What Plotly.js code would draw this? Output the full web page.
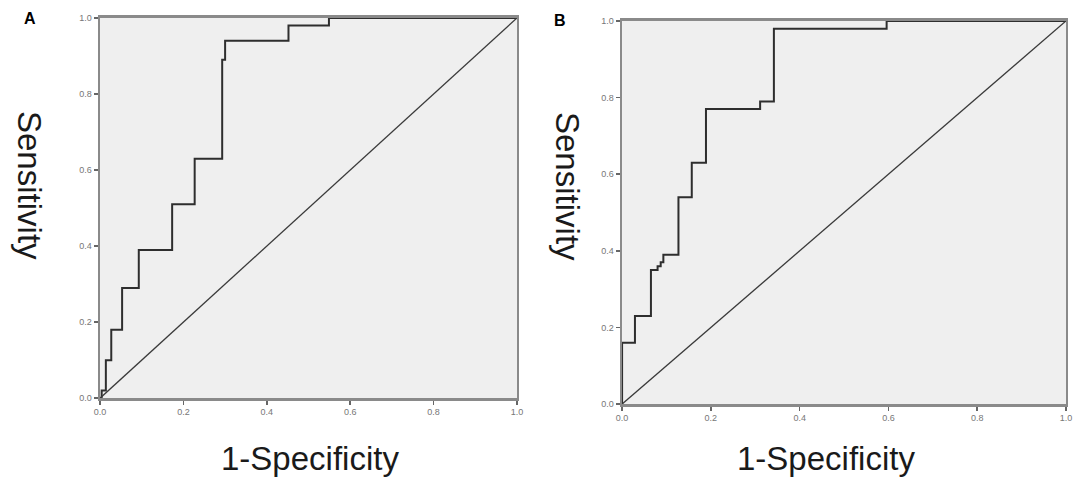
<!DOCTYPE html>
<html>
<head>
<meta charset="utf-8">
<script src="https://cdn.plot.ly/plotly-3.0.1.min.js"></script>
<style>html,body{margin:0;padding:0;background:#fff;}#chart{width:1080px;height:494px;}</style>
</head>
<body>
<div id="chart"></div>
<script>
// Panel A ROC corner points (1-Specificity, Sensitivity)
var fprA = [0, 0.004, 0.014, 0.027, 0.053, 0.093, 0.173, 0.227, 0.293, 0.300, 0.452, 0.549, 1.0];
var tprA = [0, 0.02, 0.10, 0.18, 0.29, 0.39, 0.51, 0.63, 0.89, 0.94, 0.98, 1.0, 1.0];
// Panel B ROC corner points
var fprB = [0, 0, 0.029, 0.065, 0.080, 0.087, 0.093, 0.127, 0.157, 0.189, 0.311, 0.342, 0.596, 1.0];
var tprB = [0, 0.16, 0.23, 0.35, 0.36, 0.37, 0.39, 0.54, 0.63, 0.77, 0.79, 0.98, 1.0, 1.0];
// Reference line
var refX = [0, 1];
var refY = [0, 1];
var tickVals = [0, 0.2, 0.4, 0.6, 0.8, 1.0];
var tickText = ['0.0', '0.2', '0.4', '0.6', '0.8', '1.0'];
var panelLabels = ['A', 'B'];
var xTitle = '1-Specificity';
var yTitle = 'Sensitivity';

var curveLine = {color: '#2e2e2e', width: 2, shape: 'hv'};
var diagLine = {color: '#3a3a3a', width: 1.3};

var traces = [
  {x: fprA, y: tprA, mode: 'lines', line: curveLine, xaxis: 'x', yaxis: 'y'},
  {x: refX, y: refY, mode: 'lines', line: diagLine, xaxis: 'x', yaxis: 'y'},
  {x: fprB, y: tprB, mode: 'lines', line: curveLine, xaxis: 'x2', yaxis: 'y2'},
  {x: refX, y: refY, mode: 'lines', line: diagLine, xaxis: 'x2', yaxis: 'y2'}
];

function ax(extra) {
  var a = {
    range: [0, 1], tickvals: tickVals, ticktext: tickText,
    showgrid: false, zeroline: false, showline: true, mirror: true,
    linecolor: '#8a8a8a', linewidth: 2.5,
    ticks: 'outside', ticklen: 4, tickwidth: 1.5, tickcolor: '#666',
    tickfont: {family: 'Liberation Sans, Arial, sans-serif', size: 9, color: '#777'},
    fixedrange: true
  };
  for (var k in extra) a[k] = extra[k];
  return a;
}

var titleFont = {family: 'Liberation Sans, Arial, sans-serif', size: 33, color: '#1a1a1a'};
var labelFont = {family: 'Liberation Sans, Arial, sans-serif', size: 16, color: '#000'};

var layout = {
  width: 1080, height: 494,
  margin: {l: 0, r: 0, t: 0, b: 0},
  paper_bgcolor: '#ffffff',
  plot_bgcolor: '#efefef',
  showlegend: false,
  xaxis: ax({domain: [0.0926, 0.4787], anchor: 'y'}),
  yaxis: ax({domain: [0.194, 0.9636], anchor: 'x'}),
  xaxis2: ax({domain: [0.576, 0.987], anchor: 'y2'}),
  yaxis2: ax({domain: [0.182, 0.9575], anchor: 'x2'}),
  annotations: [
    {text: '<b>' + panelLabels[0] + '</b>', x: 30, y: 19, xref: 'paper', yref: 'paper', showarrow: false, font: labelFont},
    {text: '<b>' + panelLabels[1] + '</b>', x: 560, y: 20, xref: 'paper', yref: 'paper', showarrow: false, font: labelFont},
    {text: xTitle, xref: 'paper', yref: 'paper', x: 310, y: 458, showarrow: false, font: titleFont},
    {text: xTitle, xref: 'paper', yref: 'paper', x: 826, y: 458, showarrow: false, font: titleFont},
    {text: yTitle, xref: 'paper', yref: 'paper', x: 30, y: 185, showarrow: false, textangle: 90, font: titleFont},
    {text: yTitle, xref: 'paper', yref: 'paper', x: 568, y: 186, showarrow: false, textangle: 90, font: titleFont}
  ]
};
// convert pixel positions of annotations into paper fractions
layout.annotations.forEach(function(a){
  a.x = a.x / 1080; a.y = 1 - a.y / 494;
  a.xanchor = 'center'; a.yanchor = 'middle';
});

Plotly.newPlot('chart', traces, layout, {displayModeBar: false, staticPlot: true});
</script>
</body>
</html>
